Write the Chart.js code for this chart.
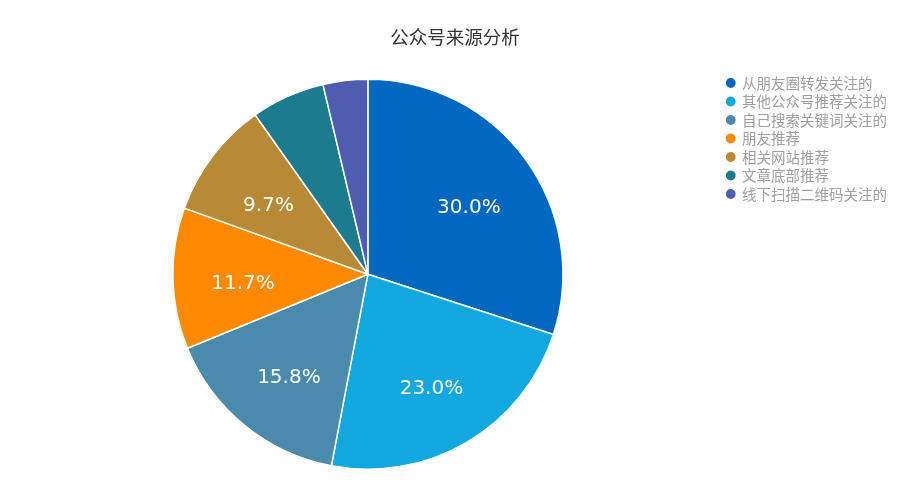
<!DOCTYPE html>
<html>
<head>
<meta charset="utf-8">
<script src="https://cdn.jsdelivr.net/npm/chart.js@4"></script>
<style>
  html, body { margin: 0; padding: 0; background: #fff; }
  #wrap { width: 919px; height: 500px; position: relative; }
</style>
</head>
<body>
<div id="wrap"><canvas id="source-chart"></canvas></div>
<script>
// 公众号来源 数据
const sources = ['从朋友圈转发关注的', '其他公众号推荐关注的', '自己搜索关键词关注的', '朋友推荐', '相关网站推荐', '文章底部推荐', '线下扫描二维码关注的'];
const shares = [30.0, 23.0, 15.8, 11.7, 9.7, 6.1, 3.7];
const sliceColors = ['#0068bf', '#12a8df', '#4a8bad', '#ff8a00', '#b88a35', '#1c7b8e', '#4e5daf'];
const labelMin = 8; // 小于此比例的扇区不显示百分比

// 扇区内百分比标签
const pctLabels = {
	id: 'pctLabels',
	afterDatasetsDraw(chart) {
		const ctx = chart.ctx;
		const meta = chart.getDatasetMeta(0);
		const total = shares.reduce((a, b) => a + b, 0);
		ctx.save();
		ctx.font = '20px "DejaVu Sans"';
		ctx.fillStyle = '#ffffff';
		ctx.textAlign = 'center';
		ctx.textBaseline = 'middle';
		meta.data.forEach((arc, i) => {
			const pct = shares[i] / total * 100;
			if (pct < labelMin) return;
			const p = arc.getProps(['x', 'y', 'startAngle', 'endAngle', 'outerRadius'], true);
			const mid = (p.startAngle + p.endAngle) / 2;
			const r = p.outerRadius * 0.64;
			ctx.fillText(pct.toFixed(1) + '%', p.x + Math.cos(mid) * r, p.y + Math.sin(mid) * r + 7);
		});
		ctx.restore();
	}
};

const ctx = document.getElementById('source-chart').getContext('2d');
new Chart(ctx, {
	type: 'pie',
	data: {
		labels: sources,
		datasets: [{
			data: shares,
			backgroundColor: sliceColors,
			borderColor: '#ffffff',
			borderWidth: 1.5
		}]
	},
	options: {
		responsive: true,
		maintainAspectRatio: false,
		animation: false,
		layout: {
			padding: { left: 13, right: 22, top: 0, bottom: 30 }
		},
		plugins: {
			title: {
				display: true,
				text: '公众号来源分析',
				color: '#333333',
				font: { size: 18.5, family: '"Noto Sans CJK SC"', weight: 'normal' },
				padding: { top: 26, bottom: 30.2 }
			},
			legend: {
				position: 'right',
				align: 'start',
				// 空标题只用来把图例往下推
				title: {
					display: true,
					text: '',
					font: { size: 10, lineHeight: 1 },
					padding: { top: 61.75, bottom: 0 }
				},
				labels: {
					usePointStyle: true,
					pointStyle: 'circle',
					boxWidth: 8,
					boxHeight: 8,
					padding: 4,
					color: '#a0a0a0',
					font: { size: 14.5, family: '"Noto Sans CJK SC"' }
				}
			},
			tooltip: { enabled: false }
		}
	},
	plugins: [pctLabels]
});
</script>
</body>
</html>
